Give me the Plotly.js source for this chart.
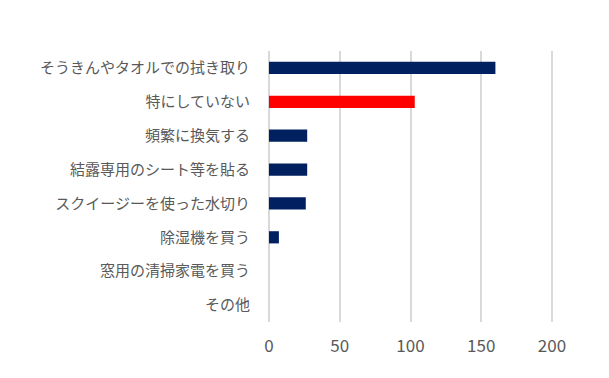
<!DOCTYPE html>
<html><head><meta charset="utf-8">
<script src="https://cdn.plot.ly/plotly-3.0.1.min.js"></script>
<style>html,body{margin:0;padding:0;background:#fff;}#chart{width:609px;height:378px;}</style>
</head><body><div id="chart"></div>
<script>
const categories = ["そうきんやタオルでの拭き取り","特にしていない","頻繁に換気する","結露専用のシート等を貼る","スクイージーを使った水切り","除湿機を買う","窓用の清掃家電を買う","その他"];
const values = [160, 103, 27, 27, 26, 7, 0, 0];
const barColors = ["#002060","#ff0000","#002060","#002060","#002060","#002060","#002060","#002060"];
const xTicks = [0, 50, 100, 150, 200];

Plotly.newPlot("chart", [{
  type: "bar", orientation: "h",
  x: values, y: categories,
  marker: {color: barColors},
  hoverinfo: "none"
}], {
  width: 609, height: 378,
  margin: {l: 267, r: 55, t: 51, b: 56},
  paper_bgcolor: "#fff", plot_bgcolor: "#fff",
  bargap: 0.64,
  showlegend: false,
  font: {family: "Noto Sans CJK JP, sans-serif", color: "#595959", size: 15},
  xaxis: {
    range: [-1.4, 201.4], tickvals: xTicks, ticktext: xTicks.map(String),
    showgrid: true, gridcolor: "#d9d9d9", gridwidth: 2,
    zeroline: false, showline: false, ticks: "",
    ticklabelstandoff: 12,
    tickfont: {size: 17, color: "#595959"}, fixedrange: true
  },
  yaxis: {
    autorange: "reversed", type: "category",
    showgrid: false, zeroline: false, showline: false, ticks: "",
    ticklabelstandoff: 16,
    tickfont: {size: 15, color: "#595959"}, fixedrange: true
  }
}, {displayModeBar: false, staticPlot: true});
</script></body></html>
